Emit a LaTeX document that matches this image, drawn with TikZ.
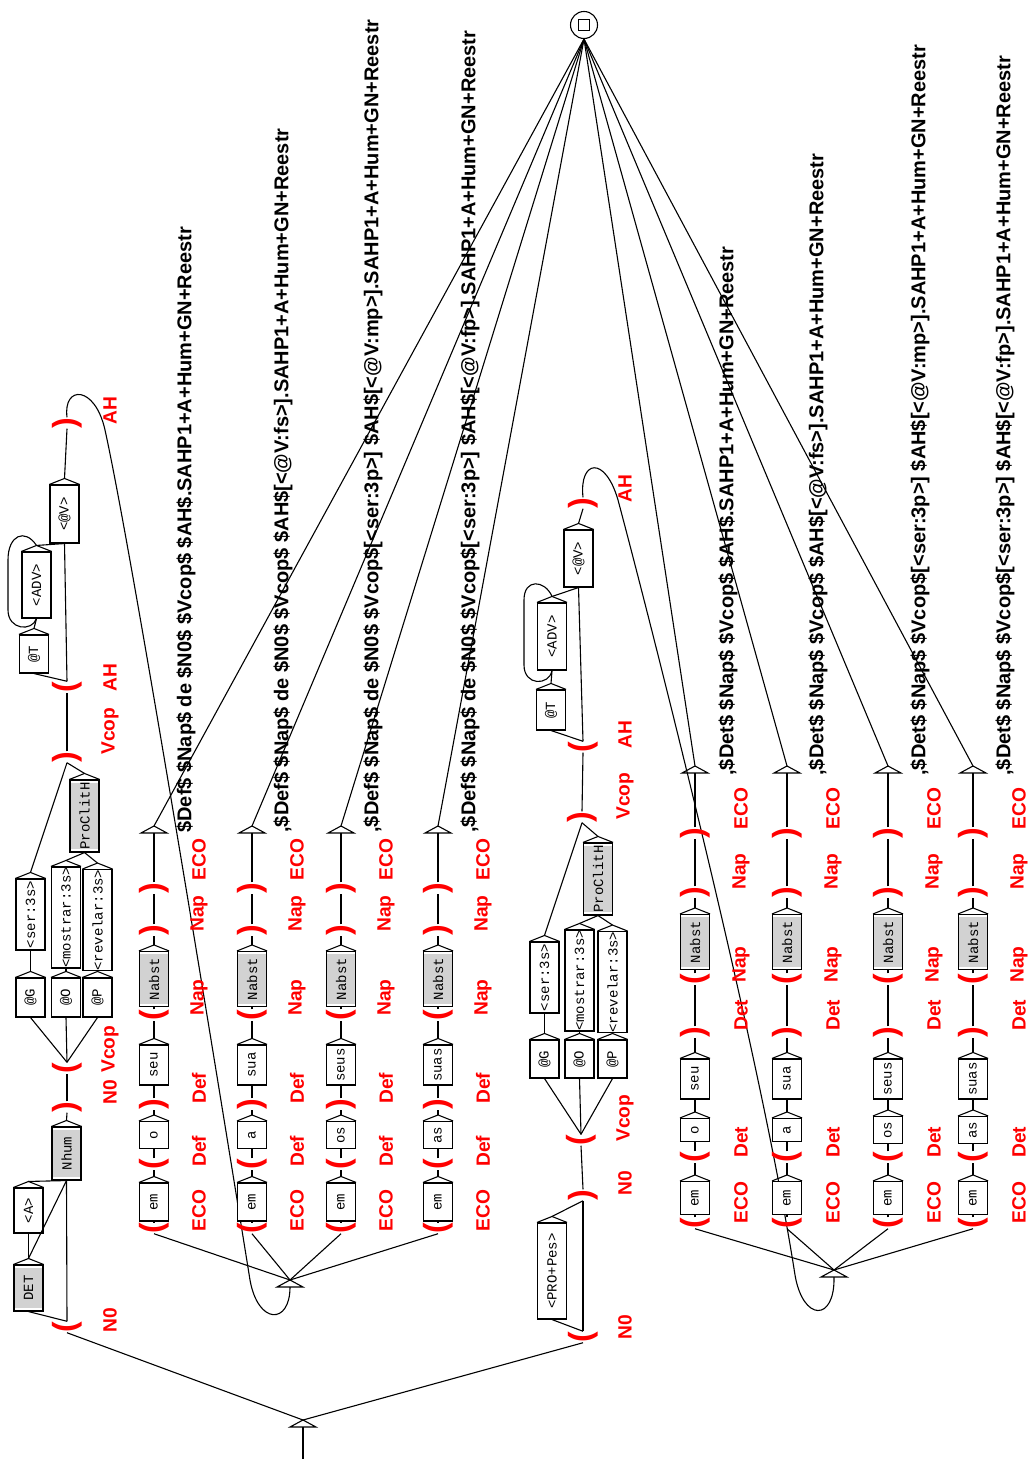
\documentclass[tikz,border=0pt]{standalone}
\usepackage{fontspec}
\setmainfont{Liberation Sans}
\newfontfamily\monofnt{Liberation Mono}
\tikzset{
  ln/.style={line width=0.55pt},
  box/.style={draw, line width=0.55pt, fill=white, rotate=90, inner sep=0pt,
    minimum height=14.5pt, font=\monofnt\fontsize{7}{8}\selectfont},
  gbox/.style={box, path picture={\fill[gray!35]
    ([shift={(1.3pt,1.3pt)}]path picture bounding box.south west) rectangle
    ([shift={(-1.3pt,-1.3pt)}]path picture bounding box.north east);}},
  par/.style={rotate=90, text=red, inner sep=0pt, font=\bfseries\fontsize{16}{18}\selectfont},
  lab/.style={rotate=90, text=red, inner sep=0pt, anchor=west, font=\bfseries\fontsize{9.6}{11}\selectfont},
  outp/.style={rotate=90, inner sep=0pt, anchor=west, font=\bfseries\fontsize{10}{12}\selectfont},
}
\newcommand\bx[6]{%
  \node[#1, minimum width={#5*0.5pt}] (#2) at (#3,#4) {#6};
  \draw[ln] (#2.north east) -- ([yshift=3pt]#2.east) -- (#2.south east);
  \coordinate (#2-o) at ([yshift=3pt]#2.east);
}
\newcommand\etri[3]{%
  \coordinate (#1-i) at (#2,#3);
  \coordinate (#1-o) at (#2,#3-7);
  \draw[ln] ({#2-13},#3) -- ({#2+13},#3) -- (#1-o) -- cycle;
}
\newcommand\pp[4]{\node[par] (#1) at (#2,#3) {#4};}
\newcommand\lb[4]{\node[lab] (#1) at (#2,#3) {#4};}
% left group column: #1 prefix, #2 x, #3 article, #4 possessive, #5 output, #6 output x
\newcommand\lcol[6]{%
  \pp{#1c1}{#2}{1228}{(}\lb{#1l1}{#2+45}{1232}{ECO}
  \bx{box}{#1em}{#2}{1202}{38}{em}
  \pp{#1c2}{#2}{1164}{(}\lb{#1l2}{#2+45}{1167}{Def}
  \bx{box}{#1art}{#2}{1135}{27}{#3}
  \pp{#1c3}{#2}{1104}{)}\lb{#1l3}{#2+45}{1104}{Def}
  \bx{box}{#1pos}{#2}{1065}{40}{#4}
  \pp{#1c4}{#2}{1015}{(}\lb{#1l4}{#2+45}{1016}{Nap}
  \bx{gbox}{#1nab}{#2}{979}{55}{Nabst}
  \pp{#1c5}{#2}{930}{)}\lb{#1l5}{#2+45}{932}{Nap}
  \pp{#1c6}{#2}{888}{)}\lb{#1l6}{#2+45}{881}{ECO}
  \etri{#1t}{#2}{833}
  \node[outp] (#1out) at (#6,833) {#5};
  \draw[ln] (#1c1.east) -- (#1em.west);
  \draw[ln] (#1em-o) -- (#1c2.west);
  \draw[ln] (#1c2.east) -- (#1art.west);
  \draw[ln] (#1art-o) -- (#1c3.west);
  \draw[ln] (#1c3.east) -- (#1pos.west);
  \draw[ln] (#1pos-o) -- (#1c4.west);
  \draw[ln] (#1c4.east) -- (#1nab.west);
  \draw[ln] (#1nab-o) -- (#1c5.west);
  \draw[ln] (#1c5.east) -- (#1c6.west);
  \draw[ln] (#1c6.east) -- (#1t-i);
  \draw[ln] (jl-o) -- (#1c1.west);
  \draw[ln] (#1t-o) -- (fin.south);
}
% right group column
\newcommand\rcol[7]{%
  \pp{#1c1}{#2}{1223}{(}\lb{#1l1}{#2+46}{1224}{ECO}
  \bx{box}{#1em}{#2}{1198}{33}{em}
  \pp{#1c2}{#2}{1157}{(}\lb{#1l2}{#2+46}{1158}{Det}
  \bx{box}{#1art}{#2}{1130}{#7}{#3}
  \bx{box}{#1pos}{#2}{1079}{40}{#4}
  \pp{#1c3}{#2}{1032}{)}\lb{#1l3}{#2+46}{1031}{Det}
  \pp{#1c4}{#2}{979}{(}\lb{#1l4}{#2+46}{983}{Nap}
  \bx{gbox}{#1nab}{#2}{942}{55}{Nabst}
  \pp{#1c5}{#2}{892}{)}\lb{#1l5}{#2+46}{890}{Nap}
  \pp{#1c6}{#2}{833}{)}\lb{#1l6}{#2+46}{830}{ECO}
  \etri{#1t}{#2}{773}
  \node[outp] (#1out) at (#6,776) {#5};
  \draw[ln] (#1c1.east) -- (#1em.west);
  \draw[ln] (#1em-o) -- (#1c2.west);
  \draw[ln] (#1c2.east) -- (#1art.west);
  \draw[ln] (#1art-o) -- (#1pos.west);
  \draw[ln] (#1pos-o) -- (#1c3.west);
  \draw[ln] (#1c3.east) -- (#1c4.west);
  \draw[ln] (#1c4.east) -- (#1nab.west);
  \draw[ln] (#1nab-o) -- (#1c5.west);
  \draw[ln] (#1c5.east) -- (#1c6.west);
  \draw[ln] (#1c6.east) -- (#1t-i);
  \draw[ln] (jr-o) -- (#1c1.west);
  \draw[ln] (#1t-o) -- (fin.south);
}
\begin{document}
\begin{tikzpicture}[x=0.5pt,y=-0.5pt]
\fill[white] (0,0) rectangle (1029,1459);
\useasboundingbox (0,0) rectangle (1029,1459);

% final state
\node[draw, circle, ln, minimum size=13.5pt, inner sep=0pt] (fin) at (584,25) {};
\node[draw, ln, minimum size=5.8pt, inner sep=0pt] (finsq) at (584,25) {};

% initial state
\etri{st}{303}{1427}
\coordinate (stend) at (303,1459);
\draw[ln] (st-i) -- (stend);

% ---------- left upper branch ----------
\pp{a1}{67}{1327}{(}\lb{la1}{110}{1333}{N0}
\bx{gbox}{aDET}{28.5}{1288}{46}{DET}
\bx{box}{aA}{28.5}{1210.5}{45}{<A>}
\bx{gbox}{aNhum}{66.5}{1153.5}{53}{Nhum}
\pp{a2}{67}{1107}{)}\lb{la2}{110}{1105}{N0}
\pp{a3}{67}{1068}{(}\lb{la3}{110}{1073}{Vcop}
\bx{box}{aG}{30.5}{997.5}{39}{@G}
\bx{box}{aO}{66}{997.5}{39}{@O}
\bx{box}{aP}{97.5}{997.5}{39}{@P}
\bx{box}{aser}{30.5}{914.5}{71}{<ser:3s>}
\bx{box}{amos}{66}{917.5}{101}{<mostrar:3s>}
\bx{box}{arev}{97.5}{920}{96}{<revelar:3s>}
\bx{gbox}{apro}{84.5}{816}{72}{ProClitH}
\pp{a4}{67}{757}{)}\lb{la4}{110}{755}{Vcop}
\pp{a5}{67}{687}{(}\lb{la5}{110}{692}{AH}
\bx{box}{aT}{34}{654}{38}{@T}
\bx{box}{aADV}{36.5}{585}{66}{<ADV>}
\bx{box}{aV}{64.5}{514}{58}{<@V>}
\pp{a6}{67}{423}{)}\lb{la6}{110}{425}{AH}

\draw[ln] (st-o) -- (a1.west);
\draw[ln] (a1.east) -- (aDET.west);
\draw[ln] (a1.east) -- (aNhum.west);
\draw[ln] (aDET-o) -- (aA.west);
\draw[ln] (aDET-o) -- (aNhum.west);
\draw[ln] (aA-o) -- (aNhum.west);
\draw[ln] (aNhum-o) -- (a2.west);
\draw[ln] (a2.east) -- (a3.west);
\draw[ln] (a3.east) -- (aG.west);
\draw[ln] (a3.east) -- (aO.west);
\draw[ln] (a3.east) -- (aP.west);
\draw[ln] (aG-o) -- (aser.west);
\draw[ln] (aO-o) -- (amos.west);
\draw[ln] (aP-o) -- (arev.west);
\draw[ln] (amos-o) -- (apro.west);
\draw[ln] (arev-o) -- (apro.west);
\draw[ln] (aser-o) -- (a4.west);
\draw[ln] (apro-o) -- (a4.west);
\draw[ln] (a4.east) -- (a5.west);
\draw[ln] (a5.east) -- (aT.west);
\draw[ln] (a5.east) -- (aV.west);
\draw[ln] (aT-o) -- (aADV.west);
\draw[ln] (aADV-o) -- (aV.west);
\draw[ln] (aADV-o) .. controls (25,528) and (8,535) .. (8,560) -- (8,610)
   .. controls (8,630) and (32,632) .. (aADV.west);
\draw[ln] (aV-o) -- (a6.west);

% left collector
\etri{jl}{290}{1287}
\draw[ln] (a6.east) .. controls (63,385) and (95,385) .. (105,430)
   .. controls (130,543) and (205,1000) .. (250,1280)
   .. controls (258,1325) and (290,1325) .. (jl-i);

\lcol{L1}{154}{o}{seu}{\$Def\$ \$Nap\$ de \$N0\$ \$Vcop\$ \$AH\$.SAHP1+A+Hum+GN+Reestr}{186}
\lcol{L2}{252}{a}{sua}{,\$Def\$ \$Nap\$ de \$N0\$ \$Vcop\$ \$AH\$[<@V:fs>].SAHP1+A+Hum+GN+Reestr}{283}
\lcol{L3}{341}{os}{seus}{,\$Def\$ \$Nap\$ de \$N0\$ \$Vcop\$[<ser:3p>] \$AH\$[<@V:mp>].SAHP1+A+Hum+GN+Reestr}{373}
\lcol{L4}{438}{as}{suas}{,\$Def\$ \$Nap\$ de \$N0\$ \$Vcop\$[<ser:3p>] \$AH\$[<@V:fp>].SAHP1+A+Hum+GN+Reestr}{470}

% ---------- right upper branch ----------
\pp{b1}{583}{1337}{(}\lb{lb1}{625}{1340}{N0}
\bx{box}{bPRO}{552}{1271}{96}{<PRO+Pes>}
\pp{b2}{583}{1195}{)}\lb{lb2}{625}{1196}{N0}
\pp{b3}{581}{1140}{(}\lb{lb3}{625}{1142}{Vcop}
\bx{box}{bG}{544.5}{1059}{38}{@G}
\bx{box}{bO}{579.5}{1059}{38}{@O}
\bx{box}{bP}{612.5}{1059}{38}{@P}
\bx{box}{bser}{544.5}{977.5}{71}{<ser:3s>}
\bx{box}{bmos}{579.5}{980.5}{101}{<mostrar:3s>}
\bx{box}{brev}{612.5}{982}{98}{<revelar:3s>}
\bx{gbox}{bpro}{598}{879}{72}{ProClitH}
\pp{b4}{582}{817}{)}\lb{lb4}{625}{820}{Vcop}
\pp{b5}{583}{747}{(}\lb{lb5}{625}{749}{AH}
\bx{box}{bT}{551}{710}{40}{@T}
\bx{box}{bADV}{552}{636.5}{67}{<ADV>}
\bx{box}{bV}{578.5}{558.5}{57}{<@V>}
\pp{b6}{583}{503}{)}\lb{lb6}{625}{503}{AH}

\draw[ln] (st-o) -- (b1.west);
\draw[ln] (b1.east) -- (bPRO.west);
\draw[ln] (b1.east) -- (b2.west);
\draw[ln] (bPRO-o) -- (b2.west);
\draw[ln] (b2.east) -- (b3.west);
\draw[ln] (b3.east) -- (bG.west);
\draw[ln] (b3.east) -- (bO.west);
\draw[ln] (b3.east) -- (bP.west);
\draw[ln] (bG-o) -- (bser.west);
\draw[ln] (bO-o) -- (bmos.west);
\draw[ln] (bP-o) -- (brev.west);
\draw[ln] (bmos-o) -- (bpro.west);
\draw[ln] (brev-o) -- (bpro.west);
\draw[ln] (bser-o) -- (b4.west);
\draw[ln] (bpro-o) -- (b4.west);
\draw[ln] (b4.east) -- (b5.west);
\draw[ln] (b5.east) -- (bT.west);
\draw[ln] (b5.east) -- (bV.west);
\draw[ln] (bT-o) -- (bADV.west);
\draw[ln] (bADV-o) -- (bV.west);
\draw[ln] (bADV-o) .. controls (545,580) and (524,578) .. (524,600) -- (524,665)
   .. controls (524,686) and (549,686) .. (bADV.west);
\draw[ln] (bV-o) -- (b6.west);

% right collector
\etri{jr}{834}{1277}
\draw[ln] (b6.east) .. controls (579,460) and (605,455) .. (618,500)
   .. controls (650,620) and (760,1050) .. (795,1275)
   .. controls (803,1322) and (835,1322) .. (jr-i);

\rcol{R1}{695}{o}{seu}{,\$Det\$ \$Nap\$ \$Vcop\$ \$AH\$.SAHP1+A+Hum+GN+Reestr}{728}{23}
\rcol{R2}{787}{a}{sua}{,\$Det\$ \$Nap\$ \$Vcop\$ \$AH\$[<@V:fs>].SAHP1+A+Hum+GN+Reestr}{818}{23}
\rcol{R3}{888}{os}{seus}{,\$Det\$ \$Nap\$ \$Vcop\$[<ser:3p>] \$AH\$[<@V:mp>].SAHP1+A+Hum+GN+Reestr}{920}{27}
\rcol{R4}{973}{as}{suas}{,\$Det\$ \$Nap\$ \$Vcop\$[<ser:3p>] \$AH\$[<@V:fp>].SAHP1+A+Hum+GN+Reestr}{1005}{27}
\end{tikzpicture}
\end{document}
